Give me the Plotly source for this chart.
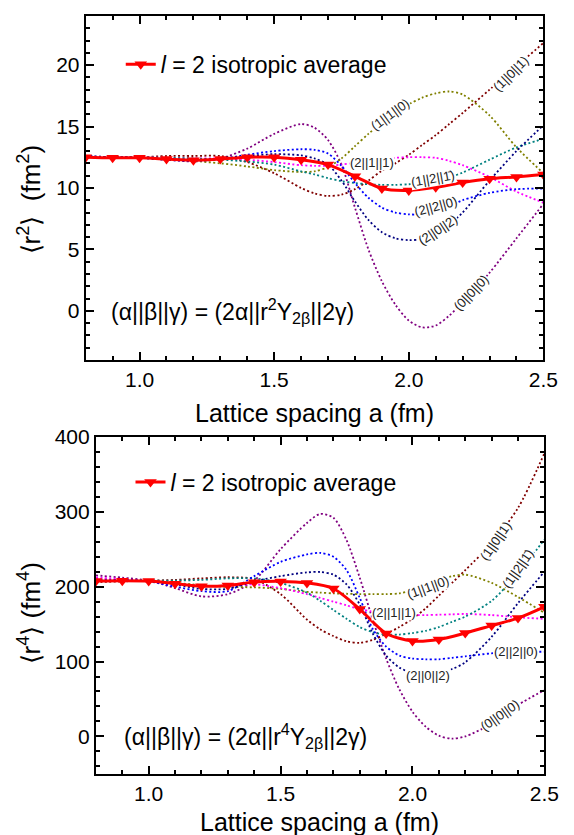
import plotly.graph_objects as go

FONT = "Liberation Sans, Arial, sans-serif"

# Lattice spacings (fm) at which the dotted matrix-element curves are sampled
a_grid = [0.8, 0.9, 1.0, 1.1, 1.2, 1.3, 1.4, 1.5, 1.6, 1.65, 1.7, 1.75, 1.8,
          1.85, 1.9, 1.95, 2.0, 2.05, 2.1, 2.15, 2.2, 2.3, 2.4, 2.5]
# Lattice spacings of the isotropic average
a_avg = [0.8, 0.9, 1.0, 1.1, 1.2, 1.3, 1.4, 1.5, 1.6, 1.7, 1.8, 1.9, 2.0,
         2.1, 2.2, 2.3, 2.4, 2.5]

# <r^2> (fm^2)
r2_000 = [12.6, 12.5, 12.5, 12.3, 12.15, 12.4, 13.2, 14.4, 15.2, 14.9, 13.9, 11.9, 8.4,
          5.0, 2.4, 0.5, -0.8, -1.35, -1.2, -0.4, 0.7, 3.1, 5.9, 8.7]
r2_101 = [12.5, 12.5, 12.5, 12.6, 12.6, 12.6, 12.1, 11.2, 10.0, 9.55, 9.35, 9.45, 9.9,
          10.6, 11.4, 12.0, 12.7, 13.5, 14.3, 15.2, 16.1, 18.0, 19.9, 21.8]
r2_110 = [12.5, 12.5, 12.45, 12.35, 12.2, 12.0, 11.75, 11.45, 11.3, 11.35, 11.7, 12.4, 13.4,
          14.4, 15.3, 16.1, 16.8, 17.35, 17.7, 17.85, 17.6, 15.9, 13.3, 11.2]
r2_211 = [12.55, 12.5, 12.5, 12.45, 12.4, 12.4, 12.3, 12.1, 11.85, 11.8, 11.8, 11.9, 12.05,
          12.2, 12.35, 12.45, 12.5, 12.5, 12.45, 12.2, 11.85, 10.9, 9.7, 8.8]
r2_121 = [12.5, 12.5, 12.5, 12.45, 12.4, 12.3, 12.15, 11.9, 11.35, 11.1, 10.8, 10.55, 10.4,
          10.3, 10.25, 10.25, 10.3, 10.4, 10.55, 10.85, 11.25, 12.3, 13.3, 14.0]
r2_220 = [12.55, 12.5, 12.45, 12.3, 12.2, 12.35, 12.7, 13.0, 13.15, 13.1, 12.8, 11.8, 10.4,
          9.2, 8.4, 8.0, 7.85, 7.85, 8.05, 8.5, 9.0, 9.6, 9.9, 9.95]
r2_202 = [12.6, 12.5, 12.45, 12.3, 12.25, 12.4, 12.6, 12.75, 12.65, 12.4, 11.9, 10.6, 8.9,
          7.4, 6.4, 5.9, 5.75, 5.85, 6.3, 7.0, 8.0, 10.6, 13.0, 15.1]
r2_avg = [12.5, 12.45, 12.45, 12.35, 12.25, 12.35, 12.5, 12.5, 12.3, 11.9, 10.95, 9.95, 9.8,
          10.05, 10.45, 10.75, 10.9, 11.1]

# <r^4> (fm^4)
r4_000 = [215, 212, 208, 198, 187, 190, 208, 250, 285, 297, 292, 262, 212,
          155, 104, 63, 33, 13, 1, -3, 0, 17, 42, 62]
r4_101 = [206, 207, 208, 209, 211, 212.5, 210, 190, 156, 143, 134, 127, 125,
          129, 137, 146, 157, 171, 188, 205, 222, 258, 305, 378]
r4_110 = [210, 209, 208, 205, 202, 199.5, 199, 197, 193, 192, 191, 190.5, 190,
          190, 190, 191, 195, 201, 208, 214, 216, 205, 186, 165]
r4_211 = [212, 210, 207, 204, 201, 201, 203, 198, 190, 185, 180, 175, 170,
          166.5, 164, 162.5, 162, 162, 162.5, 163, 163.5, 162, 159, 157]
r4_121 = [207, 208, 208, 208, 209, 211, 211, 205, 192, 181, 169, 157, 146,
          139, 136, 136, 138, 141, 146, 153, 160, 181, 218, 263]
r4_220 = [208, 209, 207, 200, 194, 194, 214, 233, 243, 245, 240, 222, 185,
          143, 120, 108, 104, 103, 103, 105, 107, 111, 113, 113]
r4_202 = [207, 208, 207, 203, 197, 197, 207, 214, 219, 219.5, 216, 203, 176,
          137, 108, 92, 85, 83, 85, 90, 99, 133, 178, 220]
r4_avg = [207.5, 208, 207.5, 204, 200.5, 201.5, 206, 207, 205, 197.5, 170, 137.5, 127.5,
          129.5, 138, 148, 158, 173]

# Curve labels (alpha||beta||gamma) and their colours
labels = ["(0||0||0)", "(1||0||1)", "(1||1||0)", "(2||1||1)",
          "(1||2||1\u0304)", "(2||2||0)", "(2||0||2)"]
colors = ["#800080", "#800000", "#808000", "#FF00FF", "#008080", "#0000FF", "#000080"]
top_series = [r2_000, r2_101, r2_110, r2_211, r2_121, r2_220, r2_202]
bot_series = [r4_000, r4_101, r4_110, r4_211, r4_121, r4_220, r4_202]

# Label anchor (a, value, angle) on each curve
top_label_pos = [(2.232, 1.5, -46), (2.38, 19.3, -45), (1.93, 16.0, -36), (1.862, 12.1, 0),
                 (2.09, 10.75, -10), (2.10, 8.45, -15), (2.11, 6.6, -33)]
bot_label_pos = [(2.33, 28, -35), (2.317, 261, -55), (2.057, 199, -20), (1.93, 166, 0),
                 (2.40, 224, -55), (2.391, 113, 0), (2.057, 82, 0)]

fig = go.Figure()

for series, xa, ya in [(top_series, "x", "y"), (bot_series, "x2", "y2")]:
    for vals, col in zip(series, colors):
        fig.add_trace(go.Scatter(
            x=a_grid, y=vals, mode="lines", xaxis=xa, yaxis=ya,
            line=dict(color=col, width=1.8, dash="2px,2.4px", shape="spline", smoothing=0.8),
            showlegend=False, hoverinfo="skip"))

avg_name = "<i>l</i> = 2 isotropic average"
fig.add_trace(go.Scatter(
    x=a_avg, y=r2_avg, mode="lines+markers", xaxis="x", yaxis="y", name=avg_name,
    line=dict(color="#FF0000", width=3, shape="spline", smoothing=0.8),
    marker=dict(symbol="triangle-down", size=11, color="#FF0000"),
    legend="legend"))
fig.add_trace(go.Scatter(
    x=a_avg, y=r4_avg, mode="lines+markers", xaxis="x2", yaxis="y2", name=avg_name,
    line=dict(color="#FF0000", width=3, shape="spline", smoothing=0.8),
    marker=dict(symbol="triangle-down", size=11, color="#FF0000"),
    legend="legend2"))

def axis_style(dtick, minor_dtick):
    return dict(
        showline=True, linecolor="black", linewidth=2, mirror="allticks",
        ticks="inside", ticklen=8, tickwidth=2, tickcolor="black",
        showgrid=False, zeroline=False, dtick=dtick, tick0=0,
        tickfont=dict(family=FONT, size=21, color="black"),
        minor=dict(ticks="inside", ticklen=4, tickwidth=1.5, tickcolor="black",
                   dtick=minor_dtick, tick0=0, showgrid=False))

W, H = 574, 835
fig.update_layout(
    width=W, height=H, margin=dict(l=0, r=0, t=0, b=0),
    paper_bgcolor="white", plot_bgcolor="white",
    font=dict(family=FONT, color="black"),
    xaxis=dict(domain=[88 / W, 558 / W], anchor="y", range=[0.8, 2.5],
               tickformat=".1f", **axis_style(0.5, 0.1)),
    yaxis=dict(domain=[1 - 353 / H, 1 - 4 / H], anchor="x", range=[-4, 24],
               **axis_style(5, 1)),
    xaxis2=dict(domain=[98.5 / W, 559 / W], anchor="y2", range=[0.8, 2.5],
                tickformat=".1f", **axis_style(0.5, 0.1)),
    yaxis2=dict(domain=[1 - 773 / H, 1 - 431 / H], anchor="x2", range=[-50, 400],
                **axis_style(100, 20)),
    legend=dict(x=124 / W, y=1 - 53 / H, xanchor="left", yanchor="middle",
                bgcolor="rgba(0,0,0,0)", font=dict(family=FONT, size=23, color="black")),
    legend2=dict(x=134 / W, y=1 - 477 / H, xanchor="left", yanchor="middle",
                 bgcolor="rgba(0,0,0,0)", font=dict(family=FONT, size=23, color="black")),
)

ann = []
for (xa, ya), pos in [(("x", "y"), top_label_pos), (("x2", "y2"), bot_label_pos)]:
    for text, (ax_, ay_, ang) in zip(labels, pos):
        ann.append(dict(x=ax_, y=ay_, xref=xa, yref=ya, text=text, showarrow=False,
                        textangle=ang, bgcolor="white", borderpad=0,
                        font=dict(family=FONT, size=13, color="#222222")))


def paper_text(x, y, text, size, angle=0, xanchor="center"):
    return dict(x=x / W, y=1 - y / H, xref="paper", yref="paper", showarrow=False,
                xanchor=xanchor, yanchor="middle", textangle=angle, text=text,
                font=dict(family=FONT, size=size, color="black"))


ann += [
    paper_text(323, 407, "Lattice spacing a (fm)", 25),
    paper_text(328, 822, "Lattice spacing a (fm)", 25),
    paper_text(30, 190, "\u27e8r<sup>2</sup>\u27e9  (fm<sup>2</sup>)", 26, angle=-90),
    paper_text(30, 610, "\u27e8r<sup>4</sup>\u27e9 (fm<sup>4</sup>)", 26, angle=-90),
    paper_text(112, 303,
               "(\u03b1||\u03b2||\u03b3) = (2\u03b1||r<sup>2</sup>Y<sub>2\u03b2</sub>||2\u03b3)",
               23, xanchor="left"),
    paper_text(125, 735,
               "(\u03b1||\u03b2||\u03b3) = (2\u03b1||r<sup>4</sup>Y<sub>2\u03b2</sub>||2\u03b3)",
               23, xanchor="left"),
]
fig.update_layout(annotations=ann)

fig.write_html("out.html")
